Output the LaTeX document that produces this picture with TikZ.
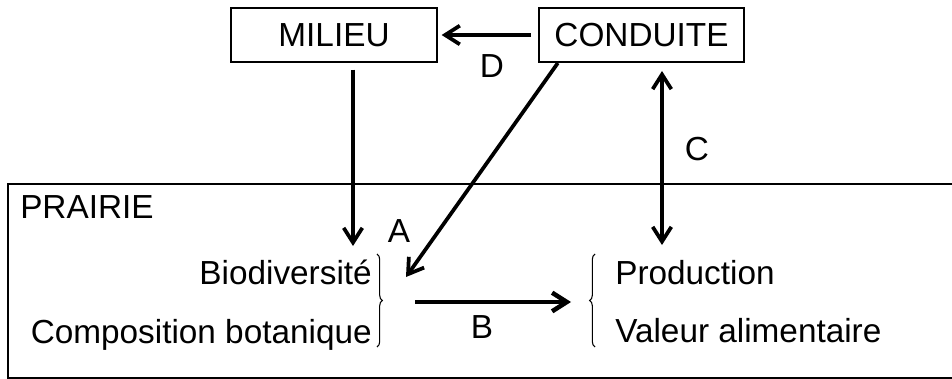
\documentclass[tikz,border=0pt]{standalone}
\usepackage{fontspec}
\setmainfont{Liberation Sans}
\usetikzlibrary{arrows.meta,decorations.pathreplacing}

\begin{document}
\begin{tikzpicture}[
    x=0.75pt, y=-0.75pt,
    every node/.style={font=\fontsize{25}{29}\selectfont, inner sep=0pt},
    box/.style={draw, line width=1.5pt, minimum width=154pt, minimum height=40.5pt},
    arr/.style={-{Straight Barb[length=11pt,width=14pt]}, line width=2.8pt},
    brc/.style={decorate, decoration={brace, amplitude=4pt}, line width=0.8pt}
]
\useasboundingbox (0,0) rectangle (952,378);

\node[box] (milieu) at (334,35) {MILIEU};
\node[box] (conduite) at (641.5,35) {CONDUITE};
\node[draw, line width=1.5pt, anchor=north west, minimum width=720pt, minimum height=145.5pt] (prairie) at (7,183) {};
\node[anchor=base west] (prairielbl) at (20,218) {PRAIRIE};

\node[anchor=base east] (bio) at (372,284) {Biodiversit\'e};
\node[anchor=base east] (compo) at (372,343) {Composition botanique};
\node[anchor=base west] (prod) at (615,284) {Production};
\node[anchor=base west] (valeur) at (615,342) {Valeur alimentaire};

% accolades
\draw[brc] (377,254) -- (377,347);
\draw[brc] (595,347) -- (595,254);

\coordinate (bioin) at (353,246);
\coordinate (bioA) at (406,277);
\coordinate (prodin) at (662,245);
\coordinate (bfrom) at (415,302);
\coordinate (bto) at (571,302);

\draw[arr, shorten <=5pt, shorten >=3pt] (conduite.west) -- (milieu.east);
\draw[arr, shorten <=5pt] (milieu.south -| bioin) -- (bioin);
\draw[arr] ([xshift=15pt]conduite.south west) -- (bioA);
\draw[arr, {Straight Barb[length=11pt,width=14pt]}-{Straight Barb[length=11pt,width=14pt]}, shorten <=6pt] (conduite.south -| prodin) -- (prodin);
\draw[arr, line width=3.4pt] (bfrom) -- (bto);

\node (lblD) at (492,66) {D};
\node (lblA) at (399,231) {A};
\node (lblB) at (482,327) {B};
\node (lblC) at (697,149) {C};
\end{tikzpicture}
\end{document}
